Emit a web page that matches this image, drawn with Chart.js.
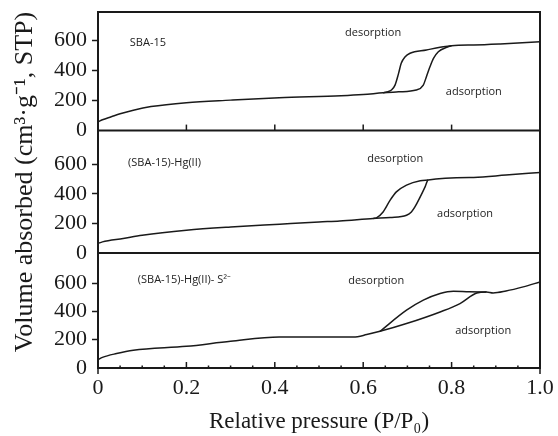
<!DOCTYPE html>
<html>
<head>
<meta charset="utf-8">
<script src="https://cdn.jsdelivr.net/npm/chart.js@4/dist/chart.umd.min.js"></script>
<style>
  html, body { margin: 0; padding: 0; background: #fff; }
  #wrap { width: 558px; height: 436px; }
</style>
</head>
<body>
<div id="wrap"><canvas id="isoChart" width="558" height="436"></canvas></div>
<script>
// --- DATA ---
const pressureTicks = [0, 0.2, 0.4, 0.6, 0.8, 1.0];
const volumeTicks = [0, 200, 400, 600];
const panelNames = ['SBA-15', '(SBA-15)-Hg(II)', '(SBA-15)-Hg(II)- S²⁻'];
const branchNames = ['desorption', 'adsorption'];

// SBA-15
const sbaAdsP = [0, 0.01, 0.03, 0.05, 0.08, 0.12, 0.2, 0.3, 0.41, 0.55, 0.6, 0.645, 0.68, 0.72, 0.736, 0.743, 0.751, 0.759, 0.77, 0.789, 0.8, 0.85, 0.91, 1.0];
const sbaAdsV = [59, 72, 92, 112, 136, 160, 186, 203, 219, 232, 240, 252, 258, 270, 303, 359, 425, 481, 525, 555, 565, 570, 577, 592];
const sbaDesP = [0.645, 0.653, 0.664, 0.672, 0.68, 0.686, 0.695, 0.706, 0.743, 0.774, 0.8];
const sbaDesV = [252, 257, 270, 303, 381, 448, 492, 515, 537, 555, 565];

// (SBA-15)-Hg(II)
const hgAdsP = [0, 0.01, 0.057, 0.1, 0.2, 0.3, 0.411, 0.5, 0.547, 0.623, 0.661, 0.698, 0.709, 0.717, 0.729, 0.74, 0.747, 0.85, 0.923, 1.0];
const hgAdsV = [64, 75, 98, 120, 154, 176, 195, 210, 217, 234, 240, 256, 278, 312, 380, 448, 494, 512, 528, 546];
const hgDesP = [0.623, 0.63, 0.645, 0.661, 0.675, 0.698, 0.729, 0.747];
const hgDesV = [234, 238, 278, 358, 414, 460, 490, 494];

// (SBA-15)-Hg(II)-S2-
const sAdsP = [0, 0.01, 0.042, 0.08, 0.2, 0.3, 0.41, 0.578, 0.608, 0.638, 0.698, 0.774, 0.819, 0.857, 0.879, 0.894, 0.923, 0.962, 1.0];
const sAdsV = [59, 75, 102, 125, 153, 189, 219, 219, 236, 259, 314, 396, 455, 530, 537, 530, 544, 573, 608];
const sDesP = [0.638, 0.698, 0.736, 0.774, 0.804, 0.84, 0.879];
const sDesV = [259, 408, 479, 526, 542, 538, 537];

// text labels inside the panels (left edge, value on that panel's axis)
const notes = [
  { axis: 'y1', x: 0.072, y: 583, text: panelNames[0] },
  { axis: 'y1', x: 0.559, y: 650, text: branchNames[0] },
  { axis: 'y1', x: 0.787, y: 257, text: branchNames[1] },
  { axis: 'y2', x: 0.068, y: 609, text: panelNames[1] },
  { axis: 'y2', x: 0.609, y: 636, text: branchNames[0] },
  { axis: 'y2', x: 0.767, y: 263, text: branchNames[1] },
  { axis: 'y3', x: 0.09, y: 620, text: panelNames[2] },
  { axis: 'y3', x: 0.566, y: 613, text: branchNames[0] },
  { axis: 'y3', x: 0.808, y: 259, text: branchNames[1] }
];

const serif = "'Liberation Serif', 'Times New Roman', serif";
const ink = '#1a1a1a';

function pts(xs, ys) {
  return xs.map((x, i) => ({ x: x, y: ys[i] }));
}

function branch(xs, ys, axis) {
  return {
    data: pts(xs, ys),
    yAxisID: axis,
    borderColor: ink,
    borderWidth: 1.5,
    pointRadius: 0,
    fill: false,
    cubicInterpolationMode: 'monotone'
  };
}

// y axis for one panel
function panelAxis(max, weight, withTitle) {
  return {
    type: 'linear',
    position: 'left',
    stack: 'panels',
    stackWeight: weight,
    min: 0,
    max: max,
    afterBuildTicks: s => { s.ticks = volumeTicks.map(v => ({ value: v })); },
    afterFit: s => { s.width = 98; s.paddingTop = 0; s.paddingBottom = 0; },
    ticks: { color: ink, padding: 5, autoSkip: false, font: { family: serif, size: 22 } },
    grid: {
      drawOnChartArea: false,
      tickLength: 6,
      tickWidth: 1.5,
      tickColor: c => (c.tick && c.tick.value === 0) ? 'rgba(0,0,0,0)' : ink
    },
    border: { display: false },
    title: {
      display: withTitle,
      // leading spaces lift the rotated text a little, as in the original figure
      text: '   Volume absorbed (cm³·g⁻¹, STP)',
      color: ink,
      font: { family: serif, size: 26 },
      padding: { top: 10, bottom: 0 }
    }
  };
}

// frame, panel dividers, inward ticks and the text labels
const framePlugin = {
  id: 'frame',
  afterDraw(chart) {
    const { ctx, chartArea: a, scales } = chart;
    const xs = scales.x;
    const line = (x1, y1, x2, y2) => { ctx.beginPath(); ctx.moveTo(x1, y1); ctx.lineTo(x2, y2); ctx.stroke(); };
    ctx.save();
    ctx.strokeStyle = ink;
    ctx.lineWidth = 2;
    ctx.strokeRect(a.left, a.top, a.right - a.left, a.bottom - a.top);
    const d1 = scales.y1.getPixelForValue(0);
    const d2 = scales.y2.getPixelForValue(0);
    line(a.left, d1, a.right, d1);
    line(a.left, d2, a.right, d2);

    ctx.lineWidth = 1.5;
    pressureTicks.forEach(v => {
      const px = xs.getPixelForValue(v);
      if (v > 0 && v < 1) {
        line(px, d1, px, d1 - 6);
        line(px, a.bottom, px, a.bottom - 6);
      } else {
        line(px, a.bottom, px, a.bottom + 6);
      }
    });
    for (let i = 1; i < 20; i++) {
      if (i % 4 === 0) continue;
      const px = xs.getPixelForValue(i / 20);
      line(px, a.bottom, px, a.bottom - 2.5);
    }

    ctx.fillStyle = '#222';
    ctx.font = "11px 'Open Sans', sans-serif";
    ctx.textAlign = 'left';
    ctx.textBaseline = 'middle';
    notes.forEach(n => {
      ctx.fillText(n.text, xs.getPixelForValue(n.x), scales[n.axis].getPixelForValue(n.y));
    });
    ctx.restore();
  }
};

function initChart() {
  const ctx = document.getElementById('isoChart').getContext('2d');
  new Chart(ctx, {
    type: 'line',
    data: {
      datasets: [
        branch(sbaAdsP, sbaAdsV, 'y1'),
        branch(sbaDesP, sbaDesV, 'y1'),
        branch(hgAdsP, hgAdsV, 'y2'),
        branch(hgDesP, hgDesV, 'y2'),
        branch(sAdsP, sAdsV, 'y3'),
        branch(sDesP, sDesV, 'y3')
      ]
    },
    options: {
      responsive: false,
      animation: false,
      layout: { padding: { left: 0, right: 18, top: 12, bottom: 0 } },
      plugins: { legend: { display: false }, tooltip: { enabled: false } },
      scales: {
        x: {
          type: 'linear',
          min: 0,
          max: 1,
          afterBuildTicks: s => { s.ticks = pressureTicks.map(v => ({ value: v })); },
          afterFit: s => { s.paddingLeft = 0; s.paddingRight = 0; },
          ticks: {
            color: ink,
            padding: 7,
            maxRotation: 0,
            autoSkip: false,
            font: { family: serif, size: 22 },
            callback: v => v === 0 ? '0' : v.toFixed(1)
          },
          grid: { display: false, drawTicks: false },
          border: { display: false },
          title: {
            display: true,
            text: 'Relative pressure (P/P₀)',
            color: ink,
            font: { family: serif, size: 23 },
            padding: { top: 0, bottom: 0 }
          }
        },
        // stacked axes are laid out bottom first
        y3: panelAxis(813, 115, false),
        y2: panelAxis(830, 122.2, true),
        y1: panelAxis(790, 118.5, false)
      }
    },
    plugins: [framePlugin]
  });
}

document.addEventListener('DOMContentLoaded', initChart);
</script>
</body>
</html>
